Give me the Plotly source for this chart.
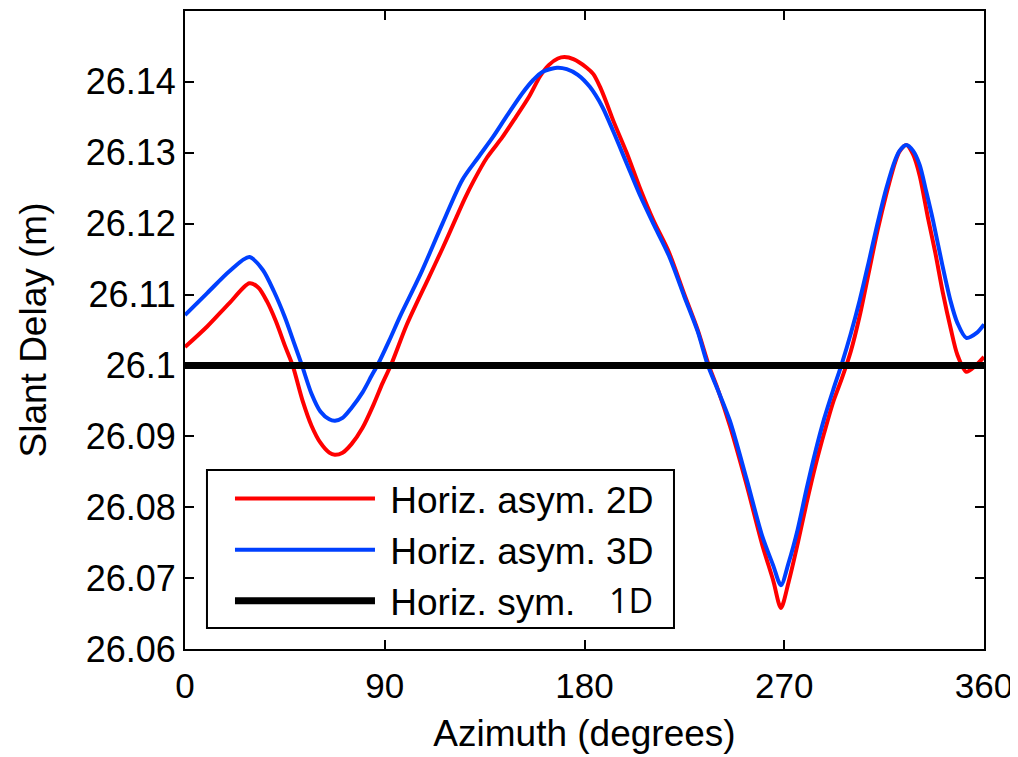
import plotly.graph_objects as go

# Horiz. asym. 2D (red)
az_2d = [0, 10, 20, 29, 33, 37, 41, 45, 48.5, 53, 57, 61, 65, 67.5, 71, 75, 80, 85, 89,
         93, 100, 110, 116, 121, 126, 130, 136, 143, 149, 155, 160, 164, 168, 171, 175,
         181, 184, 187, 190, 193, 199, 205, 211, 218, 225, 231, 236, 240, 245.5, 253,
         260, 265, 268.5, 272, 276, 280, 284, 288, 292, 296, 300, 304, 308, 312, 316,
         320, 322, 325, 328, 331, 334.7, 338, 341.5, 345, 348, 352, 356, 360]
delay_2d = [26.1026, 26.1055, 26.1088, 26.1116, 26.1110, 26.1090, 26.1062, 26.1028,
            26.1000, 26.0950, 26.0915, 26.0891, 26.0877, 26.0874, 26.0877, 26.0889,
            26.0912, 26.0945, 26.0975, 26.1002, 26.1058, 26.1125, 26.1165, 26.1200,
            26.1235, 26.1260, 26.1293, 26.1322, 26.1350, 26.1379, 26.1408, 26.1424,
            26.1433, 26.1435, 26.1432, 26.1420, 26.1411, 26.1393, 26.1370, 26.1345,
            26.1300, 26.1250, 26.1205, 26.1160, 26.1100, 26.1050, 26.1000, 26.0967,
            26.0915, 26.0832, 26.0748, 26.0697, 26.0658, 26.0695, 26.0748, 26.0805,
            26.0858, 26.0905, 26.0948, 26.0982, 26.1020, 26.1070, 26.1130, 26.1190,
            26.1242, 26.1287, 26.1302, 26.1311, 26.1298, 26.1268, 26.1209, 26.1160,
            26.1102, 26.1052, 26.1015, 26.0991, 26.0999, 26.1012]

# Horiz. asym. 3D (blue)
az_3d = [0, 10, 20, 29, 35, 40, 45, 49, 52.7, 57, 61, 65, 67.6, 71, 75, 80, 84, 87, 92,
         97, 106, 116, 125, 132, 138.7, 145, 152, 157, 161, 167.6, 172, 177, 182.4,
         188, 193, 199, 205, 211, 218, 225, 231, 235.6, 240, 245.5, 253, 260, 265,
         268.5, 272, 276, 280, 284, 288, 292, 296, 300, 304, 308, 312, 316, 320, 322,
         325, 328, 331, 334, 337, 341, 345, 348, 352, 356.7, 360]
delay_3d = [26.1071, 26.1102, 26.1133, 26.1153, 26.1135, 26.1105, 26.1068, 26.1033,
            26.1000, 26.0960, 26.0935, 26.0924, 26.0922, 26.0926, 26.0940, 26.0962,
            26.0985, 26.1002, 26.1035, 26.1070, 26.1128, 26.1200, 26.1262, 26.1293,
            26.1322, 26.1352, 26.1384, 26.1403, 26.1414, 26.1420, 26.1418, 26.1410,
            26.1393, 26.1365, 26.1330, 26.1285, 26.1240, 26.1200, 26.1155, 26.1097,
            26.1048, 26.1000, 26.0966, 26.0922, 26.0840, 26.0760, 26.0718, 26.0690,
            26.0722, 26.0768, 26.0825, 26.0878, 26.0925, 26.0965, 26.1003, 26.1045,
            26.1092, 26.1145, 26.1200, 26.1250, 26.1290, 26.1303, 26.1311, 26.1303,
            26.1283, 26.1245, 26.1205, 26.1145, 26.1090, 26.1060, 26.1039, 26.1046,
            26.1058]

# Horiz. sym. 1D (black)
az_1d = [0, 360]
delay_1d = [26.1, 26.1]

x_ticks = [0, 90, 180, 270, 360]
y_ticks = [26.06, 26.07, 26.08, 26.09, 26.10, 26.11, 26.12, 26.13, 26.14]
y_ticktext = ["26.06", "26.07", "26.08", "26.09", "26.1", "26.11", "26.12", "26.13", "26.14"]

FONT = "Liberation Sans, Arial, Helvetica, sans-serif"
NB = "\u00a0"

fig = go.Figure()
fig.add_trace(go.Scatter(x=az_2d, y=delay_2d, mode="lines", name=NB + "Horiz. asym. 2D",
                         line=dict(color="#ff0000", width=4, shape="spline", smoothing=0.8)))
fig.add_trace(go.Scatter(x=az_3d, y=delay_3d, mode="lines", name=NB + "Horiz. asym. 3D",
                         line=dict(color="#0040ff", width=4, shape="spline", smoothing=0.8)))
fig.add_trace(go.Scatter(x=az_1d, y=delay_1d, mode="lines", name=NB + "Horiz. sym.",
                         line=dict(color="#000000", width=7)))

# legend frame (drawn as a shape so its size matches the original)
fig.add_shape(type="rect", xref="paper", yref="paper",
              x0=0.0275, x1=0.612, y0=0.0329, y1=0.2806,
              line=dict(color="black", width=2), fillcolor="white", layer="above")

# the page body has an 8px margin, so the figure is 1010x749 and offsets are reduced by 8
fig.update_layout(
    width=1010, height=749,
    margin=dict(l=177, r=34, t=3, b=108),
    paper_bgcolor="white", plot_bgcolor="white",
    font=dict(family=FONT, size=35, color="black"),
    showlegend=True,
    legend=dict(x=0.0563, y=0.2837, xanchor="left", yanchor="top",
                bgcolor="rgba(0,0,0,0)", borderwidth=0,
                font=dict(size=37), itemwidth=140, tracegroupgap=0),
    xaxis=dict(range=[0, 360], tickvals=x_ticks, ticks="inside", ticklen=9,
               tickwidth=2, tickcolor="black", showline=True, linecolor="black",
               linewidth=2, mirror="ticks", showgrid=False, zeroline=False,
               automargin=False, ticklabelstandoff=5,
               title=dict(text="Azimuth (degrees)", standoff=16, font=dict(size=37)),
               tickfont=dict(size=35)),
    yaxis=dict(range=[26.06, 26.15], tickvals=y_ticks, ticktext=y_ticktext,
               ticks="inside", ticklen=9, tickwidth=2, tickcolor="black",
               showline=True, linecolor="black", linewidth=2, mirror="ticks",
               showgrid=False, zeroline=False, automargin=False,
               title=dict(text="Slant Delay (m)", standoff=28, font=dict(size=37)),
               tickfont=dict(size=36)),
)

fig.add_annotation(text="1D", xref="paper", yref="paper", x=0.588, y=0.0768,
                   xanchor="right", yanchor="middle", showarrow=False,
                   font=dict(family="Open Sans, Noto Sans, sans-serif", size=34, color="black"))

fig.write_html("out.html")
